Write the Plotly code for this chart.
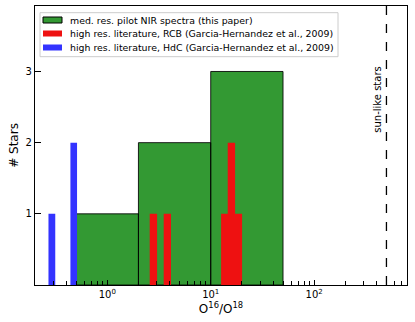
import plotly.graph_objects as go
import math

# ---- data ----
green_lo = [0.5, 2.0, 10.0]
green_hi = [2.0, 10.0, 50.0]
green_counts = [1, 2, 3]

red_lo = [2.57, 3.51, 12.6, 14.6, 17.2]
red_hi = [3.03, 4.13, 14.6, 17.2, 20.1]
red_counts = [1, 1, 1, 2, 1]

blue_lo = [0.27, 0.44]
blue_hi = [0.314, 0.51]
blue_counts = [1, 2]

sun_like_ratio = 500
x_major = [1, 10, 100]
x_major_text = ["10<sup>0</sup>", "10<sup>1</sup>", "10<sup>2</sup>"]
y_ticks = [1, 2, 3]

legend_labels = [
    "med. res. pilot NIR spectra (this paper)",
    "high res. literature, RCB (Garcia-Hernandez et al., 2009)",
    "high res. literature, HdC (Garcia-Hernandez et al., 2009)",
]

FONT = "DejaVu Sans"
W, H = 415, 322
L, R, T, B = 35, 8, 6, 37
PW, PH = W - L - R, H - T - B

GREEN, RED, BLUE = "#339933", "#ee1111", "#3333ff"


def px(xp):
    return (xp - L) / PW


def py(yp):
    return 1 - (yp - T) / PH


def bars_path(lo, hi, counts):
    xs, ys = [], []
    for a, b, c in zip(lo, hi, counts):
        xs += [a, a, b, b, a, None]
        ys += [0, c, c, 0, 0, None]
    return xs, ys


fig = go.Figure()
gx, gy = bars_path(green_lo, green_hi, green_counts)
fig.add_trace(go.Scatter(x=gx, y=gy, mode="lines", fill="toself",
                         fillcolor=GREEN, line=dict(color="rgba(0,0,0,0.85)", width=1),
                         name=legend_labels[0], showlegend=False))
rx, ry = bars_path(red_lo, red_hi, red_counts)
fig.add_trace(go.Scatter(x=rx, y=ry, mode="lines", fill="toself",
                         fillcolor=RED, line=dict(color=RED, width=0),
                         name=legend_labels[1], showlegend=False))
bx, by = bars_path(blue_lo, blue_hi, blue_counts)
fig.add_trace(go.Scatter(x=bx, y=by, mode="lines", fill="toself",
                         fillcolor=BLUE, line=dict(color=BLUE, width=0),
                         name=legend_labels[2], showlegend=False))

# reference line for sun-like stars
fig.add_shape(type="line", xref="x", yref="paper", x0=sun_like_ratio, x1=sun_like_ratio,
              y0=0, y1=1, line=dict(color="black", width=1.3, dash="dash"))
fig.add_annotation(x=math.log10(sun_like_ratio), y=2.61, xref="x", yref="y",
                   text="sun-like stars", textangle=-90, showarrow=False,
                   xshift=-9, font=dict(family=FONT, size=10, color="black"))

# ---- legend (drawn manually to match compact layout) ----
fig.add_shape(type="rect", xref="paper", yref="paper",
              x0=px(40), x1=px(338), y0=py(12.7), y1=py(56.7),
              line=dict(color="#cccccc", width=1), fillcolor="white", layer="above")
rows_y = [20, 33.5, 47.5]
colors = [GREEN, RED, BLUE]
for i, (lab, col, yy) in enumerate(zip(legend_labels, colors, rows_y)):
    fig.add_shape(type="rect", xref="paper", yref="paper",
                  x0=px(43), x1=px(62), y0=py(yy + 3), y1=py(yy - 3),
                  line=dict(color="black" if i == 0 else col, width=1 if i == 0 else 0),
                  fillcolor=col, layer="above")
    fig.add_annotation(x=px(68), y=py(yy), xref="paper", yref="paper",
                       text=lab, showarrow=False, xanchor="left", yanchor="middle",
                       font=dict(family=FONT, size=9.4, color="black"))

minor_vals = [k * 10 ** d for d in range(-1, 3) for k in range(2, 10)]

fig.update_layout(
    width=W, height=H,
    margin=dict(l=L, r=R, t=T, b=B),
    plot_bgcolor="white", paper_bgcolor="white",
    font=dict(family=FONT, size=10, color="black"),
    showlegend=False,
    xaxis=dict(type="log", range=[math.log10(0.2), math.log10(790)],
               tickvals=x_major, ticktext=x_major_text, ticks="inside", ticklen=5,
               tickwidth=1.3, tickcolor="black", showgrid=False, zeroline=False,
               showline=True, linecolor="black", linewidth=1.3, mirror=True,
               automargin=False,
               minor=dict(tickvals=minor_vals, ticks="inside", ticklen=3.5,
                          tickwidth=0.8, tickcolor="black", showgrid=False),
               title=dict(text="O<sup>16</sup>/O<sup>18</sup>", standoff=0,
                          font=dict(size=12)),
               tickfont=dict(size=10)),
    yaxis=dict(range=[0, 3.92], tickvals=y_ticks, ticks="inside", ticklen=6,
               tickwidth=1.3, tickcolor="black", showgrid=False, zeroline=False,
               showline=True, linecolor="black", linewidth=1.3, mirror=True,
               automargin=False,
               title=dict(text="# Stars", standoff=4, font=dict(size=12)),
               tickfont=dict(size=10)),
)

fig.write_html("out.html", config={"displayModeBar": False},
               post_script="document.body.style.margin='0';document.body.style.overflow='hidden';")
